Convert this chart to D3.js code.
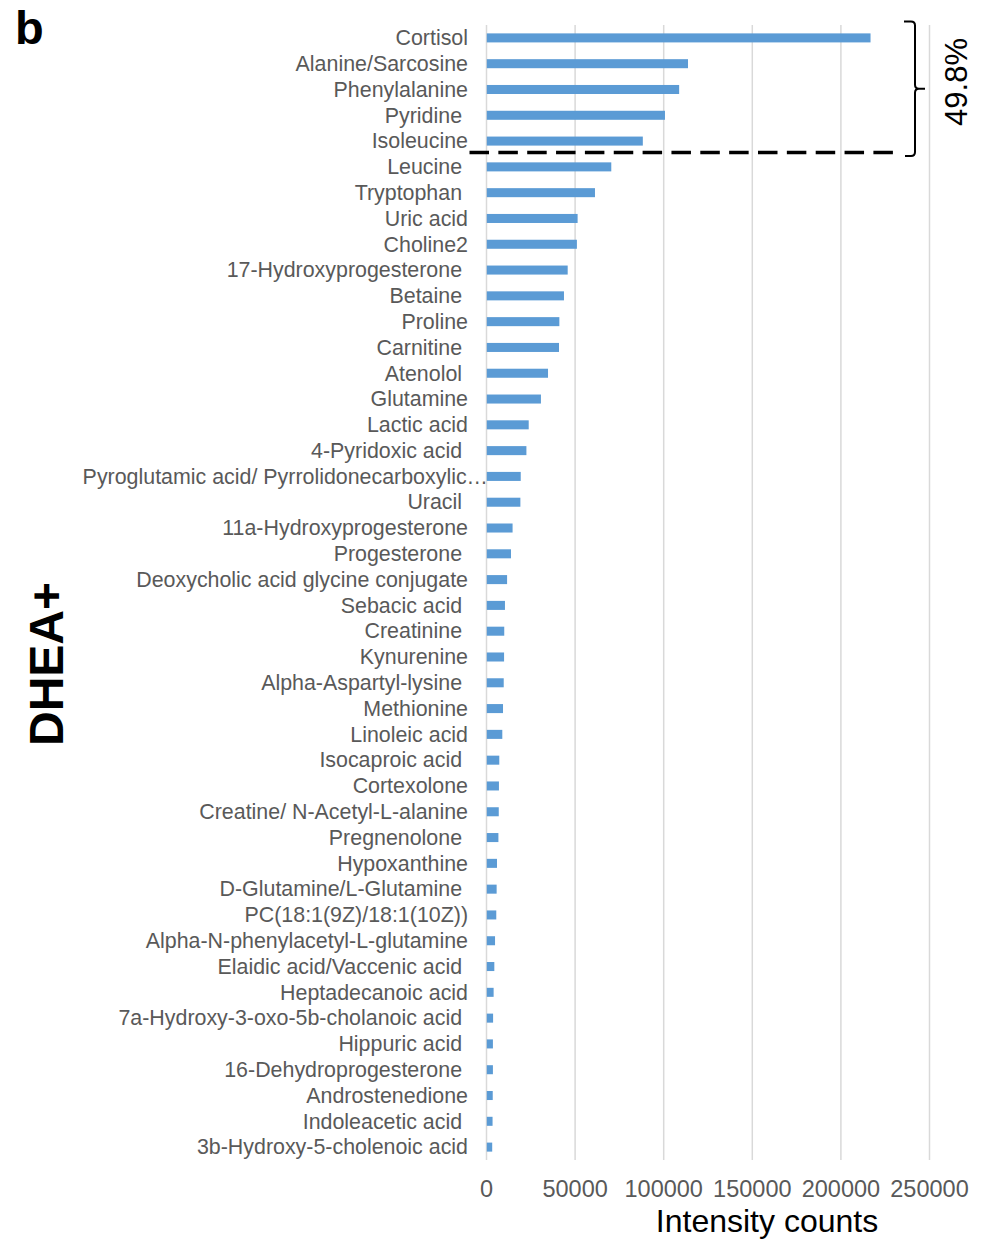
<!DOCTYPE html>
<html>
<head>
<meta charset="utf-8">
<script src="https://cdn.jsdelivr.net/npm/d3@7"></script>
<style>
  html, body { margin: 0; padding: 0; background: #fff; }
  svg { display: block; font-family: Arial, "Liberation Sans", sans-serif; }
</style>
</head>
<body>
<svg id="chart" width="990" height="1239"></svg>
<script>
// Metabolite names as they appear on the axis (some carry a trailing space)
const categories = [
  "Cortisol", "Alanine/Sarcosine", "Phenylalanine", "Pyridine ", "Isoleucine",
  "Leucine ", "Tryptophan ", "Uric acid", "Choline2", "17-Hydroxyprogesterone ",
  "Betaine ", "Proline", "Carnitine ", "Atenolol ", "Glutamine",
  "Lactic acid", "4-Pyridoxic acid ", "Pyroglutamic acid/ Pyrrolidonecarboxylic…", "Uracil ", "11a-Hydroxyprogesterone",
  "Progesterone ", "Deoxycholic acid glycine conjugate", "Sebacic acid ", "Creatinine ", "Kynurenine",
  "Alpha-Aspartyl-lysine ", "Methionine", "Linoleic acid", "Isocaproic acid ", "Cortexolone",
  "Creatine/ N-Acetyl-L-alanine", "Pregnenolone ", "Hypoxanthine", "D-Glutamine/L-Glutamine ", "PC(18:1(9Z)/18:1(10Z))",
  "Alpha-N-phenylacetyl-L-glutamine", "Elaidic acid/Vaccenic acid ", "Heptadecanoic acid", "7a-Hydroxy-3-oxo-5b-cholanoic acid ", "Hippuric acid ",
  "16-Dehydroprogesterone ", "Androstenedione", "Indoleacetic acid ", "3b-Hydroxy-5-cholenoic acid"
];

// Intensity counts per metabolite
const intensities = [
  217000, 114000, 109000, 101000, 88500,
  70700, 61500, 51700, 51300, 46100,
  44000, 41400, 41200, 35000, 31000,
  24100, 22800, 19600, 19400, 15000,
  14100, 11900, 10700, 10300, 10200,
  10000, 9600, 9200, 7500, 7300,
  7200, 7000, 6200, 6000, 5800,
  5100, 4700, 4300, 4000, 3900,
  3900, 3800, 3700, 3500
];

const xTicks = [0, 50000, 100000, 150000, 200000, 250000];

// The top group marked by the bracket
const topGroupSize = 5;
const topGroupShare = "49.8%";

const panelLetter = "b";
const groupTitle = "DHEA+";
const xTitle = "Intensity counts";

const data = categories.map((c, i) => ({ name: c, value: intensities[i] }));

const svg = d3.select("#chart");

const x = d3.scaleLinear().domain([0, 250000]).range([486, 929]);
const y = d3.scaleBand()
  .domain(categories)
  .range([25, 1160])
  .paddingInner(0.65)
  .paddingOuter(0.325);

// Vertical gridlines and tick labels
const axis = d3.axisBottom(x)
  .tickValues(xTicks)
  .tickFormat(d3.format("d"))
  .tickSize(-(1160 - 25))
  .tickPadding(20);

const gAxis = svg.append("g")
  .attr("transform", "translate(0,1160)")
  .call(axis);
gAxis.select(".domain").remove();
gAxis.selectAll(".tick line")
  .attr("stroke", "#d9d9d9")
  .attr("stroke-width", 1.5);
gAxis.selectAll(".tick text")
  .attr("fill", "#595959")
  .style("font-size", "23.5px")
  .style("font-family", "Arial, 'Liberation Sans', sans-serif");

// Bars
svg.append("g")
  .selectAll("rect")
  .data(data)
  .join("rect")
  .attr("x", x(0) + 0.8)
  .attr("y", d => y(d.name))
  .attr("width", d => x(d.value) - x(0) - 0.8)
  .attr("height", y.bandwidth())
  .attr("fill", "#5b9bd5");

// Category labels
svg.append("g")
  .selectAll("text")
  .data(data)
  .join("text")
  .attr("xml:space", "preserve")
  .style("white-space", "pre")
  .attr("x", d => d.name.endsWith("…") ? 488 : 468)
  .attr("y", d => y(d.name) + y.bandwidth() / 2)
  .attr("dy", "0.34em")
  .attr("text-anchor", "end")
  .attr("fill", "#595959")
  .style("font-size", "21.4px")
  .text(d => d.name);

// Dashed separator below the top group
const sepY = y(categories[topGroupSize - 1]) + y.step() / 2 + y.bandwidth() / 2 - 1.5;
svg.append("line")
  .attr("x1", 469.5)
  .attr("x2", 893)
  .attr("y1", sepY)
  .attr("y2", sepY)
  .attr("stroke", "#000")
  .attr("stroke-width", 3.5)
  .attr("stroke-dasharray", "19.5,9.35");

// Bracket around the top group
const bTop = 21.5, bBot = 156, bX = 915;
const bMid = (bTop + bBot) / 2;
svg.append("path")
  .attr("d",
    `M904,${bTop} H${bX - 4} Q${bX},${bTop} ${bX},${bTop + 4} V${bMid - 4} ` +
    `Q${bX},${bMid} ${bX + 4},${bMid} H${bX + 10} ` +
    `M${bX + 4},${bMid} Q${bX},${bMid} ${bX},${bMid + 4} V${bBot - 4} ` +
    `Q${bX},${bBot} ${bX - 4},${bBot} H905`)
  .attr("fill", "none")
  .attr("stroke", "#000")
  .attr("stroke-width", 2);

svg.append("text")
  .attr("transform", "translate(967,82) rotate(-90)")
  .attr("text-anchor", "middle")
  .attr("fill", "#000")
  .style("font-size", "31px")
  .text(topGroupShare);

// Panel letter
svg.append("text")
  .attr("x", 15)
  .attr("y", 44)
  .attr("fill", "#000")
  .style("font-size", "47px")
  .style("font-weight", "bold")
  .text(panelLetter);

// Group title on the left
svg.append("text")
  .attr("transform", "translate(63,664) rotate(-90)")
  .attr("text-anchor", "middle")
  .attr("fill", "#000")
  .style("font-size", "48px")
  .style("font-weight", "bold")
  .text(groupTitle);

// X axis title
svg.append("text")
  .attr("x", 767)
  .attr("y", 1232)
  .attr("text-anchor", "middle")
  .attr("fill", "#000")
  .style("font-size", "32px")
  .text(xTitle);
</script>
</body>
</html>
